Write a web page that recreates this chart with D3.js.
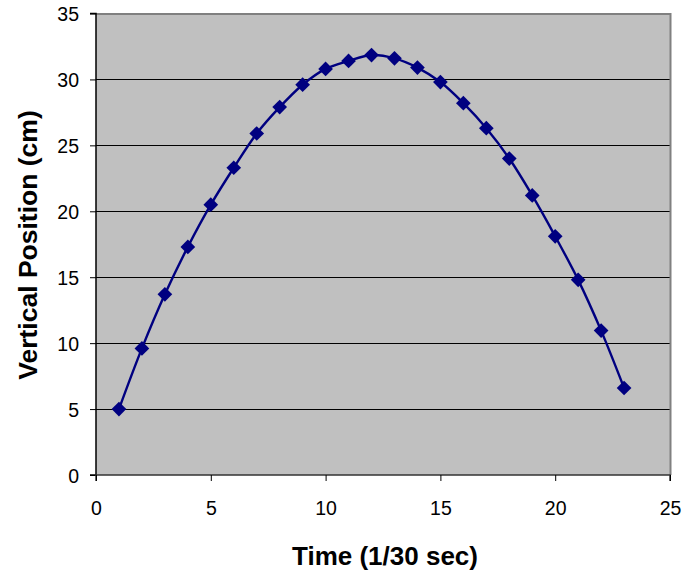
<!DOCTYPE html>
<html><head><meta charset="utf-8">
<script src="https://cdn.jsdelivr.net/npm/d3@7"></script>
<style>body{margin:0;background:#fff}svg{display:block}text{font-family:"Liberation Sans",Arial,sans-serif}</style>
</head><body>
<svg id="c" width="698" height="573"></svg>
<script>
const times = [1,2,3,4,5,6,7,8,9,10,11,12,13,14,15,16,17,18,19,20,21,22,23];
const positions = [5.0,9.6,13.7,17.3,20.5,23.3,25.9,27.9,29.6,30.8,31.4,31.85,31.6,30.9,29.8,28.2,26.3,24.0,21.2,18.1,14.8,10.95,6.6];
const xTicks = [0,5,10,15,20,25];
const yTicks = [0,5,10,15,20,25,30,35];
const xTitle = "Time (1/30 sec)";
const yTitle = "Vertical Position (cm)";

const svg = d3.select("#c");
const L=96, R=670, T=13.5, B=475;
const x = d3.scaleLinear().domain([0,25]).range([L,R]);
const y = d3.scaleLinear().domain([0,35]).range([B,T]);

svg.append("rect").attr("x",L).attr("y",T).attr("width",R-L).attr("height",B-T).attr("fill","#c0c0c0");
// gridlines
svg.append("g").selectAll("line").data(yTicks.filter(d=>d>0&&d<35)).join("line")
  .attr("x1",L).attr("x2",R).attr("y1",d=>Math.round(y(d))+0.5).attr("y2",d=>Math.round(y(d))+0.5)
  .attr("stroke","#000").attr("stroke-width",1);
// top & right border
svg.append("path").attr("d",`M${L},${T+0.5}H${R+0.5}V${B}`).attr("fill","none").attr("stroke","#808080").attr("stroke-width",2);

// axes
const yAxis = d3.axisLeft(y).tickValues(yTicks).tickSize(6).tickPadding(11).tickFormat(d3.format("d"));
const gy = svg.append("g").attr("transform",`translate(${L},1)`).call(yAxis);
const xAxis = d3.axisBottom(x).tickValues(xTicks).tickSize(6).tickPadding(20).tickFormat(d3.format("d"));
const gx = svg.append("g").attr("transform",`translate(0,${B})`).call(xAxis);
[gx,gy].forEach(g=>{
  g.select(".domain").attr("stroke","#000").attr("stroke-width",1.5);
  g.selectAll(".tick line").attr("stroke","#000");
  g.selectAll("text").attr("font-size",19.5).attr("fill","#000").style("font-family","'Liberation Sans',Arial,sans-serif");
});
gy.selectAll(".tick line").attr("transform","translate(0,-1)");
gy.select(".domain").attr("d",`M-6,${T-1}H0V${B-1}H-6`);
gx.select(".domain").attr("d",`M${L},6V0H${R}V6`).attr("stroke","#333");

// line
const line = d3.line().x((d,i)=>x(times[i])).y(d=>y(d)).curve(d3.curveCatmullRom.alpha(0.5));
svg.append("path").datum(positions).attr("d",line).attr("fill","none").attr("stroke","#000080").attr("stroke-width",2.4);

// markers
svg.append("g").selectAll("path").data(positions).join("path")
  .attr("d",d3.symbol().type(d3.symbolSquare).size(108))
  .attr("transform",(d,i)=>`translate(${x(times[i])},${y(d)}) rotate(45)`)
  .attr("fill","#000080");

// titles
svg.append("text").attr("x",385).attr("y",565).attr("text-anchor","middle")
  .attr("font-size",26).attr("font-weight","bold").text(xTitle);
svg.append("text").attr("transform",`translate(37,245) rotate(-90)`).attr("text-anchor","middle")
  .attr("font-size",26.5).attr("font-weight","bold").text(yTitle);
</script>
</body></html>
